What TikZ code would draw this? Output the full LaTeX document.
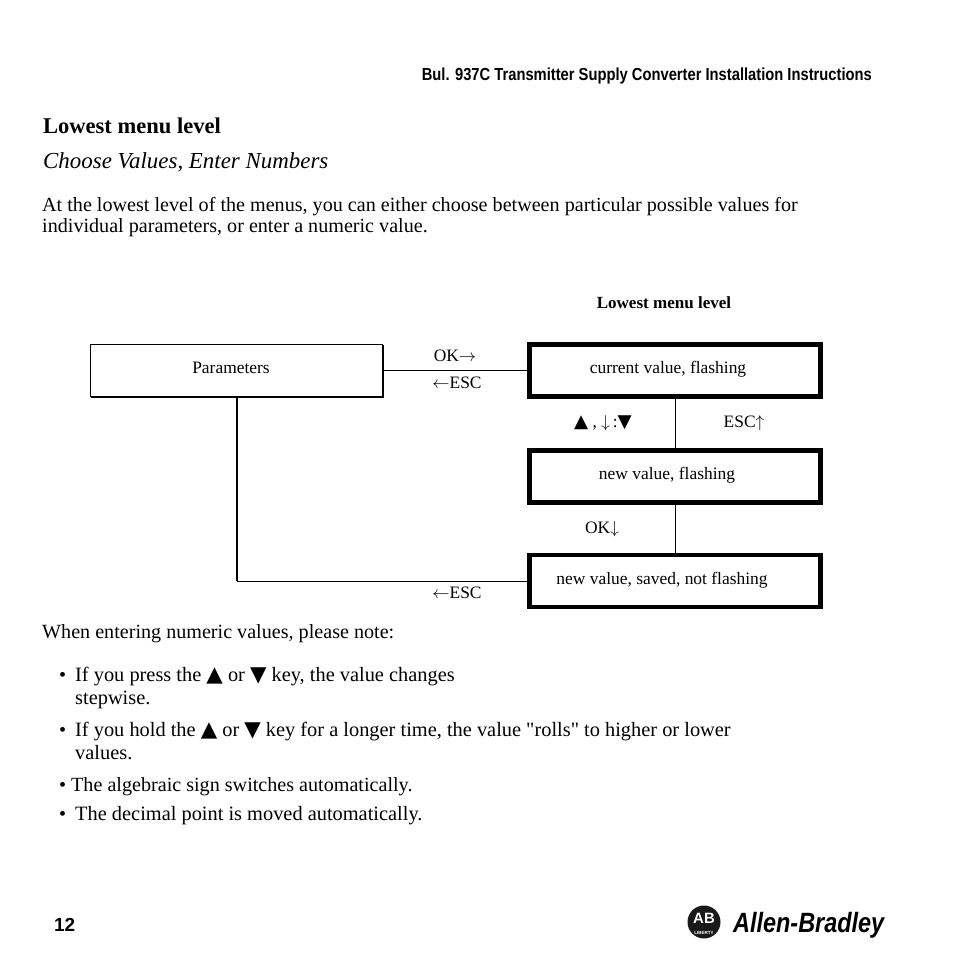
\documentclass[tikz,border=0pt]{standalone}
\usepackage{fontspec}
\setmainfont{Liberation Serif}
\newfontfamily\plainserif{Liberation Serif}
\newfontfamily\symfont{DejaVu Sans}
\newfontfamily\headfont[FakeStretch=0.845]{Liberation Sans}
\newfontfamily\logofont[FakeStretch=0.84]{Liberation Sans}
\newfontfamily\pagefont{Liberation Sans}
\usetikzlibrary{positioning,calc}
\newcommand{\keyup}{{\symfont\scalebox{1.05}{▲}}}
\newcommand{\keydown}{{\symfont\scalebox{1.05}{▼}}}

\begin{document}
\begin{tikzpicture}[x=1bp,y=-1bp,
  body/.style={anchor=base west, inner sep=0pt, font=\fontsize{20.2}{22}\selectfont},
  item/.style={anchor=base west, inner sep=0pt, font=\fontsize{20.45}{22}\selectfont},
  small/.style={anchor=base, inner sep=0pt, font=\fontsize{17.5}{20}\selectfont},
  valuebox/.style={rectangle, draw, line width=4.5bp, minimum width=291bp, minimum height=52bp, inner sep=0pt},
  wire/.style={line width=1bp}
]
  \useasboundingbox (0,0) rectangle (954,954);

  % page head
  \node[anchor=base east, inner sep=0pt, font=\headfont\bfseries\fontsize{17.5}{20}\selectfont] (head) at (872,80) {Bul. 937C Transmitter Supply Converter Installation Instructions};
  \node[body, font=\fontsize{22.6}{24}\selectfont\bfseries] (title) at (43,133) {Lowest menu level};
  \node[body, font=\fontsize{23}{25}\selectfont\itshape] (subtitle) at (43,168) {Choose Values, Enter Numbers};
  \node[body] (introa) at (42,211) {At the lowest level of the menus, you can either choose between particular possible values for};
  \node[body] (introb) at (42,232) {individual parameters, or enter a numeric value.};

  % menu diagram
  \node[small, font=\fontsize{17.1}{19}\selectfont\bfseries] (level) at (664,308) {Lowest menu level};
  \node[rectangle, minimum width=292bp, minimum height=52bp, inner sep=0pt] (par) at (237,371) {};
  \draw[line width=1.2bp] (par.south west) -- (par.north west) -- (par.north east);
  \draw[line width=2bp] (par.north east) -- (par.south east) -- (par.south west);
  \node[small] (partext) at (231,373) {Parameters};

  \node[valuebox] (cur) at (675,370.5) {};
  \node[valuebox] (new) at (675,476.5) {};
  \node[valuebox] (saved) at (675,581) {};
  \node[small] (curtext) at (668,373) {current value, flashing};
  \node[small] (newtext) at (667,479) {new value, flashing};
  \node[small] (savedtext) at (662,584) {new value, saved, not flashing};

  \coordinate (elbow) at (par.south |- saved.west);
  \draw[wire] (par.east |- cur.west) -- (cur.west);
  \draw[wire] (cur.south) -- (new.north);
  \draw[wire] (new.south) -- (saved.north);
  \draw[line width=2bp] (par.south) -- (elbow);
  \draw[wire] (elbow) -- (saved.west);

  \node[small] (okr) at (455,361) {OK$\rightarrow$};
  \node[small] (escl) at (457,388) {$\leftarrow$ESC};
  \node[small] (keys) at (603,427) {\keyup\ ,\ $\downarrow$\,:\keydown};
  \node[small] (escu) at (744,427) {ESC$\uparrow$};
  \node[small] (okd) at (602,533) {OK$\downarrow$};
  \node[small] (esclb) at (457,598) {$\leftarrow$ESC};

  % notes
  \node[body] (note) at (42,638) {When entering numeric values, please note:};
  \node[body] (dota) at (59,681) {•};
  \node[item] (linea) at (75,681) {If you press the \keyup{} or \keydown{} key, the value changes};
  \node[item] (lineb) at (75,704) {stepwise.};
  \node[body] (dotb) at (59,736) {•};
  \node[item] (linec) at (75,736) {If you hold the \keyup{} or \keydown{} key for a longer time, the value {\plainserif "}rolls{\plainserif "} to higher or lower};
  \node[item] (lined) at (75,759) {values.};
  \node[body] (dotc) at (59,791) {•};
  \node[body] (linee) at (71,791) {The algebraic sign switches automatically.};
  \node[body] (dotd) at (59,820) {•};
  \node[item] (linef) at (75,820) {The decimal point is moved automatically.};

  % page foot
  \node[anchor=base west, inner sep=0pt, font=\pagefont\bfseries\fontsize{19}{21}\selectfont] (page) at (54,931) {12};
  \node[circle, fill=black!90, minimum size=33bp, inner sep=0pt] (seal) at (704,922) {};
  \node[inner sep=0pt, text=white, font=\pagefont\bfseries\fontsize{15}{16}\selectfont] (sealab) at (704,918.5) {AB};
  \node[inner sep=0pt, text=white, font=\pagefont\bfseries\fontsize{4.5}{5}\selectfont] (sealtext) at (704,933) {LIBERTY};
  \node[anchor=base west, inner sep=0pt, font=\logofont\bfseries\itshape\fontsize{28}{31}\selectfont] (brand) at (733,932) {Allen-Bradley};
\end{tikzpicture}
\end{document}
